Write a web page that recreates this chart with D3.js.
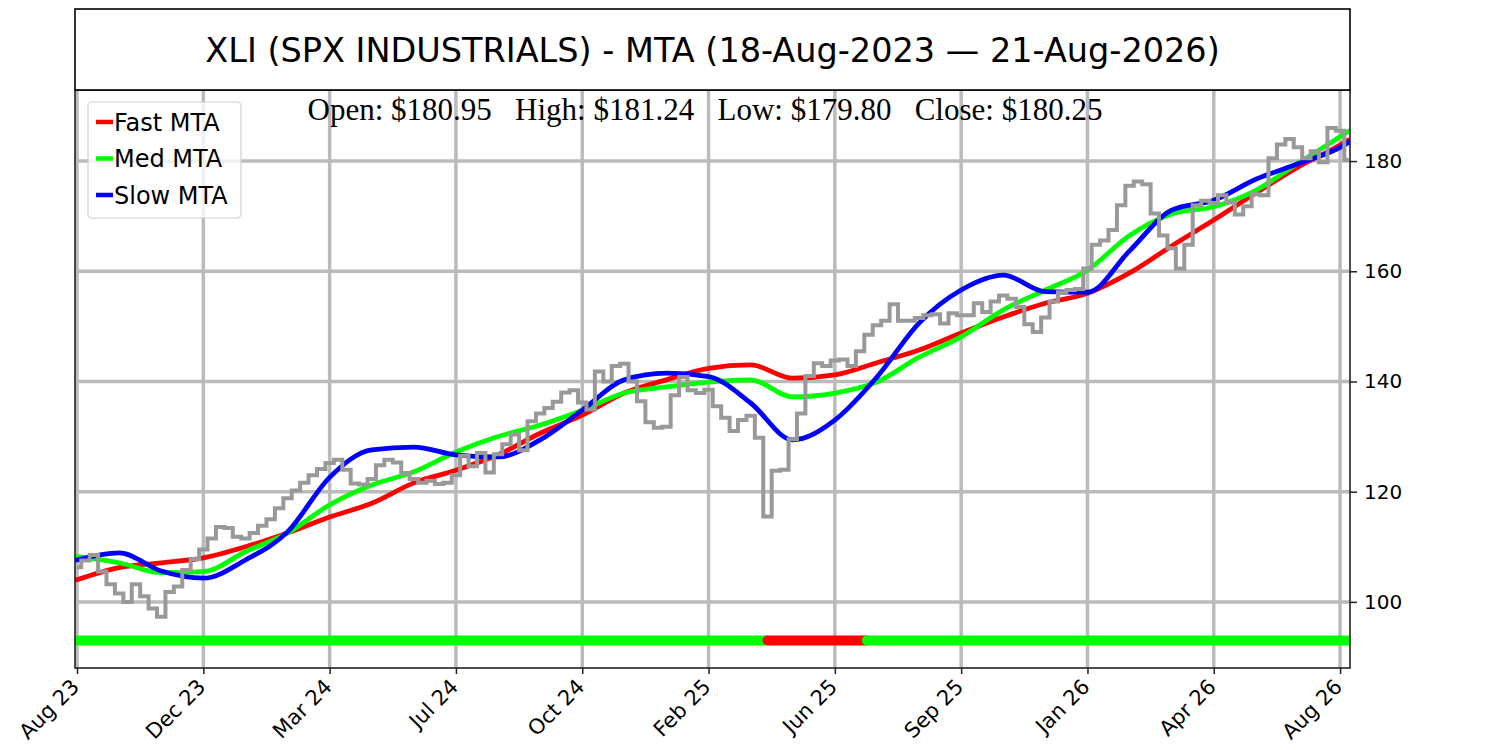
<!DOCTYPE html>
<html>
<head>
<meta charset="utf-8">
<script src="https://cdn.jsdelivr.net/npm/d3@7"></script>
<style>
  body { margin: 0; background: #fff; }
  text { font-family: "DejaVu Sans", sans-serif; }
</style>
</head>
<body>
<div id="chart"></div>
<script>
// ---------------------------//
//            DATA            //
// ---------------------------//

// x tick labels, one every 75 trading days
const xTickLabels = ["Aug 23", "Dec 23", "Mar 24", "Jul 24", "Oct 24", "Feb 25",
                     "Jun 25", "Sep 25", "Jan 26", "Apr 26", "Aug 26"];
const yTicks = [100, 120, 140, 160, 180];

// weekly closes (one value every 5 trading days, index 0..755)
const weeklyClose = [
  106.3, 107.5, 108.5, 105.5, 103.2, 101.5, 100.0, 103.2, 101.0, 98.8,
  97.3, 101.8, 102.8, 105.8, 107.8, 109.5, 111.5, 113.6, 113.4, 111.8,
  111.5, 112.5, 113.8, 115.0, 117.0, 118.8, 120.2, 121.6, 123.0, 124.1,
  125.2, 125.8, 124.0, 121.5, 121.3, 122.3, 124.8, 125.8, 125.3, 123.4,
  122.3, 121.6, 122.0, 121.4, 121.6, 123.0, 126.5, 124.6, 127.0, 123.5,
  126.8, 128.6, 130.4, 127.5, 132.8, 134.2, 135.2, 136.3, 138.0, 138.4,
  136.2, 134.9, 141.8, 140.0, 142.8, 143.2, 140.0, 136.4, 132.6, 131.6,
  131.8, 137.5, 140.8, 138.4, 137.9, 138.5, 135.5, 133.4, 131.0, 133.0,
  133.8, 129.8, 115.5, 123.8, 124.0, 129.5, 134.2, 141.0, 143.3, 142.8,
  143.8, 144.0, 142.8, 145.5, 148.5, 150.2, 151.0, 154.0, 151.0, 151.0,
  151.5, 152.0, 152.2, 150.5, 152.4, 152.0, 152.0, 154.2, 152.6, 154.5,
  155.6, 155.0, 153.5, 150.4, 149.0, 151.6, 154.5, 156.2, 156.6, 156.8,
  160.5, 164.8, 165.6, 167.5, 172.0, 175.5, 176.3, 175.8, 170.5, 166.5,
  164.2, 160.5, 164.8, 172.0, 172.8, 172.4, 173.8, 172.5, 170.3, 171.8,
  174.0, 173.8, 180.5, 183.0, 184.0, 182.5, 180.5, 181.8, 179.8, 186.0,
  185.5, 180.25
];

// MTA values, one every 25 trading days (last one at day 755)
const fastMTA = [104.0, 106.2, 107.1, 108.0, 110.0, 112.5, 115.4, 117.9, 121.6, 123.9,
                 126.7, 130.6, 133.9, 137.9, 140.3, 142.4, 143.0, 140.6, 141.2, 143.4,
                 145.7, 148.8, 151.7, 154.2, 156.0, 159.7, 164.6, 169.3, 174.2, 178.9,
                 182.9, 183.8];
const medMTA  = [108.2, 107.1, 105.3, 105.5, 109.1, 112.5, 117.6, 121.2, 123.6, 127.2,
                 130.0, 132.1, 134.8, 137.9, 139.0, 139.9, 140.3, 137.2, 137.9, 139.9,
                 144.4, 148.1, 153.0, 156.6, 160.2, 166.5, 170.4, 171.7, 174.7, 179.6,
                 184.4, 185.4];
const slowMTA = [107.6, 108.9, 105.6, 104.3, 107.6, 112.7, 122.6, 127.6, 128.1, 126.7,
                 126.3, 129.4, 134.8, 140.3, 141.5, 140.9, 136.1, 129.4, 133.0, 140.8,
                 150.6, 156.6, 159.3, 156.3, 156.2, 163.7, 171.1, 172.9, 176.7, 179.5,
                 182.5, 183.4];

// trend signal segments (trading day start/end)
const signalStart = [0, 410, 469];
const signalEnd   = [410, 469, 755];
const signalState = ["bull", "bear", "bull"];
const signalLevel = 93;

const ohlcText = "Open: $180.95\u00a0\u00a0\u00a0High: $181.24\u00a0\u00a0\u00a0Low: $179.80\u00a0\u00a0\u00a0Close: $180.25";
const titleText = "XLI (SPX INDUSTRIALS) - MTA (18-Aug-2023 \u2014 21-Aug-2026)";

// ---------------------------//
//          CANVAS            //
// ---------------------------//
const W = 1500, H = 750;
const plot = {left: 75, right: 1350, top: 90, bottom: 668};

const svg = d3.select("#chart").append("svg")
    .attr("width", W)
    .attr("height", H);

const x = d3.scaleLinear()
    .domain([-1.2, 755.9])
    .range([plot.left, plot.right]);

const y = d3.scaleLinear()
    .domain([88, 192.9])
    .range([plot.bottom, plot.top]);

svg.append("clipPath").attr("id", "clip")
  .append("rect")
    .attr("x", plot.left).attr("y", plot.top)
    .attr("width", plot.right - plot.left)
    .attr("height", plot.bottom - plot.top);

// ---------------------------//
//           GRID             //
// ---------------------------//
const xTickIdx = xTickLabels.map((d, i) => i * 75);

svg.append("g").selectAll("line")
  .data(xTickIdx)
  .enter().append("line")
    .attr("x1", d => x(d)).attr("x2", d => x(d))
    .attr("y1", plot.top).attr("y2", plot.bottom)
    .attr("stroke", "#bbbbbb").attr("stroke-width", 3.5);

svg.append("g").selectAll("line")
  .data(yTicks)
  .enter().append("line")
    .attr("x1", plot.left).attr("x2", plot.right)
    .attr("y1", d => y(d)).attr("y2", d => y(d))
    .attr("stroke", "#bbbbbb").attr("stroke-width", 3.5);

// ---------------------------//
//         SERIES             //
// ---------------------------//
const g = svg.append("g").attr("clip-path", "url(#clip)");

// signal bar
const signalColor = {bull: "#00ff00", bear: "#ff0000"};
g.selectAll(".signal")
  .data(signalState)
  .enter().append("line")
    .attr("class", "signal")
    .attr("x1", (d, i) => x(signalStart[i]))
    .attr("x2", (d, i) => x(signalEnd[i]))
    .attr("y1", y(signalLevel)).attr("y2", y(signalLevel))
    .attr("stroke", d => signalColor[d])
    .attr("stroke-width", 10)
    .attr("stroke-linecap", "round");

// MTA lines
const mtaIdx = i => Math.min(i * 25, 755);
const mtaLine = d3.line()
    .x((d, i) => x(mtaIdx(i)))
    .y(d => y(d))
    .curve(d3.curveMonotoneX);

const series = [
  {name: "Fast MTA", values: fastMTA, color: "#ff0000"},
  {name: "Med MTA",  values: medMTA,  color: "#00ff00"},
  {name: "Slow MTA", values: slowMTA, color: "#0000ff"}
];

series.forEach(s => {
  g.append("path")
    .attr("d", mtaLine(s.values))
    .attr("fill", "none")
    .attr("stroke", s.color)
    .attr("stroke-width", 4.8)
    .attr("stroke-linejoin", "round")
    .attr("stroke-linecap", "round");
});

// price (gray)
const priceLine = d3.line()
    .x((d, i) => x(i * 5))
    .y(d => y(d))
    .curve(d3.curveStep);

g.append("path")
  .attr("d", priceLine(weeklyClose))
  .attr("fill", "none")
  .attr("stroke", "#999999")
  .attr("stroke-width", 4);

// ---------------------------//
//          AXES              //
// ---------------------------//
const xAxis = svg.append("g")
    .attr("transform", `translate(0,${plot.bottom})`)
    .call(d3.axisBottom(x).tickValues(xTickIdx)
          .tickFormat((d, i) => xTickLabels[i]).tickSizeOuter(0).tickSize(6));
xAxis.select(".domain").remove();
xAxis.selectAll("line").attr("stroke", "#222").attr("stroke-width", 1.5);
xAxis.selectAll("text")
    .attr("font-size", 21)
    .attr("fill", "#000")
    .attr("text-anchor", "end")
    .attr("dy", null)
    .attr("y", 0)
    .attr("transform", "translate(3,20) rotate(-45)");

const yAxis = svg.append("g")
    .attr("transform", `translate(${plot.right},0)`)
    .call(d3.axisRight(y).tickValues(yTicks).tickSize(7).tickPadding(7));
yAxis.select(".domain").remove();
yAxis.selectAll("line").attr("stroke", "#222").attr("stroke-width", 1.5);
yAxis.selectAll("text").attr("font-size", 20).attr("fill", "#000");

// spines
svg.append("rect")
  .attr("x", plot.left).attr("y", plot.top)
  .attr("width", plot.right - plot.left)
  .attr("height", plot.bottom - plot.top)
  .attr("fill", "none")
  .attr("stroke", "#222")
  .attr("stroke-width", 1.6);

// ---------------------------//
//       TITLE & TEXT         //
// ---------------------------//
svg.append("rect")
  .attr("x", plot.left).attr("y", 9)
  .attr("width", plot.right - plot.left).attr("height", plot.top - 9)
  .attr("fill", "#fff")
  .attr("stroke", "#000")
  .attr("stroke-width", 1.6);

svg.append("text")
  .attr("x", (plot.left + plot.right) / 2)
  .attr("y", 62)
  .attr("text-anchor", "middle")
  .attr("font-size", 33.5)
  .text(titleText);

svg.append("text")
  .attr("x", 705)
  .attr("y", 120)
  .attr("text-anchor", "middle")
  .attr("font-size", 31)
  .style("font-family", "'Liberation Serif', 'Times New Roman', serif")
  .text(ohlcText);

// ---------------------------//
//          LEGEND            //
// ---------------------------//
const legend = svg.append("g");
legend.append("rect")
  .attr("x", 88).attr("y", 102)
  .attr("width", 153).attr("height", 116)
  .attr("rx", 4)
  .attr("fill", "#fff").attr("fill-opacity", 0.8)
  .attr("stroke", "#d0d0d0").attr("stroke-width", 1.2);

legend.selectAll(".lg-line")
  .data(series)
  .enter().append("line")
    .attr("x1", 96).attr("x2", 113)
    .attr("y1", (d, i) => 122 + i * 36.5)
    .attr("y2", (d, i) => 122 + i * 36.5)
    .attr("stroke", d => d.color)
    .attr("stroke-width", 4.5);

legend.selectAll(".lg-text")
  .data(series)
  .enter().append("text")
    .attr("x", 114)
    .attr("y", (d, i) => 122 + i * 36.5)
    .attr("dy", "0.36em")
    .attr("font-size", 24)
    .text(d => d.name);
</script>
</body>
</html>
